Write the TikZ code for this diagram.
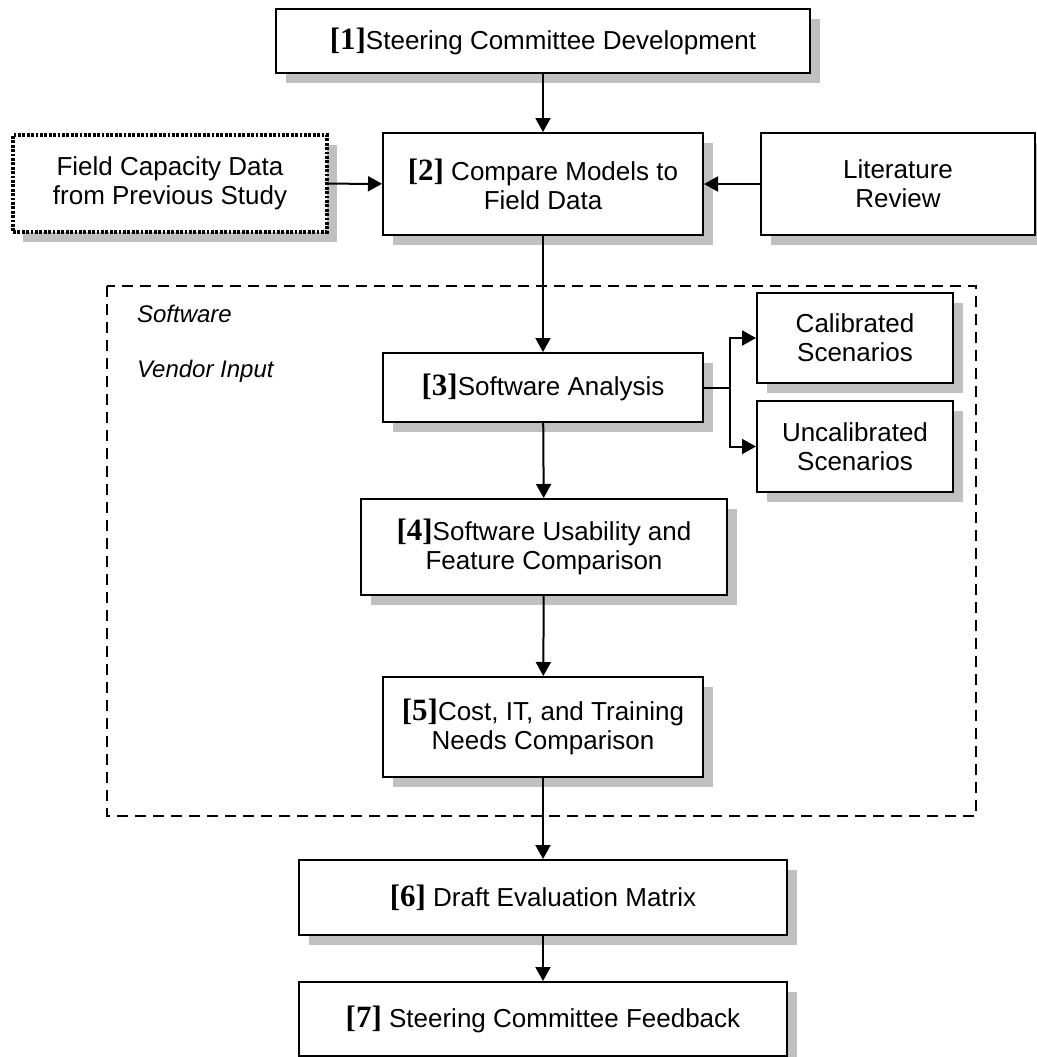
\documentclass[tikz,border=0pt]{standalone}
\usepackage{fontspec}
\setmainfont{Liberation Sans}
\newfontfamily\numfont{Liberation Serif}
\usepackage{tikz}
\usepackage{xcolor}
\usetikzlibrary{arrows.meta}
\usetikzlibrary{shadows}

\definecolor{shadowgray}{RGB}{192,192,192}
\newcommand{\stepno}[1]{{\numfont\bfseries\fontsize{15.5}{14.5}\selectfont[#1]}}

\begin{document}
\begin{tikzpicture} [
    x=0.5pt, y=-0.5pt,
    block/.style  = { rectangle, draw, line width=1pt, fill=white,
                      align=center, inner sep=2pt,
                      font=\fontsize{13}{14.5}\selectfont,
                      drop shadow={shadow xshift=5pt, shadow yshift=-5pt,
                                   fill=shadowgray, opacity=1} },
    source/.style = { block, line width=1.6pt,
                      dash pattern=on 1.4pt off 0.8pt },
    group/.style  = { draw, line width=0.9pt,
                      dash pattern=on 5.5pt off 3.5pt },
    tag/.style    = { font=\fontsize{12}{14}\selectfont\itshape,
                      anchor=base west },
    line/.style   = { draw, line width=1pt,
                      -{Triangle[length=7pt,width=7.5pt]} },
  ]
  \useasboundingbox (0,0) rectangle (1037,1057);

  % vendor input region
  \draw [group] (107,286) rectangle (976,816);
  \node [tag] (tagsoft)   at (130,322) {Software};
  \node [tag] (tagvendor) at (130,377) {Vendor Input};

  \node [block, minimum width=267pt, minimum height=32pt] (committee)
        at (543,41) {\stepno{1}Steering Committee Development};
  \node [block, minimum width=160pt, minimum height=51pt] (compare)
        at (543,184) {\stepno{2} Compare Models to\\Field Data};
  \node [source, minimum width=157pt, minimum height=48.5pt] (fielddata)
        at (170,183.5) {Field Capacity Data\\from Previous Study};
  \node [block, minimum width=137pt, minimum height=51pt] (litreview)
        at (898,184) {Literature\\Review};
  \node [block, minimum width=160pt, minimum height=34.5pt] (analysis)
        at (543,387.5) {\stepno{3}Software Analysis};
  \node [block, minimum width=98pt, minimum height=45pt] (calib)
        at (855,338) {Calibrated\\Scenarios};
  \node [block, minimum width=98pt, minimum height=45.5pt] (uncalib)
        at (855,446.5) {Uncalibrated\\Scenarios};
  \node [block, minimum width=183pt, minimum height=48pt] (usability)
        at (544,547) {\stepno{4}Software Usability and\\Feature Comparison};
  \node [block, minimum width=160pt, minimum height=50pt] (cost)
        at (543,727) {\stepno{5}Cost, IT, and Training\\Needs Comparison};
  \node [block, minimum width=244pt, minimum height=37.5pt] (matrix)
        at (543,897.5) {\stepno{6} Draft Evaluation Matrix};
  \node [block, minimum width=244pt, minimum height=37pt] (feedback)
        at (543,1019) {\stepno{7} Steering Committee Feedback};
  \coordinate (split) at (730,387.5);

  % connect all nodes defined above
  \begin{scope} [every path/.style=line]
    \path (committee) -- (compare);
    \path (fielddata) -- (compare);
    \path (litreview) -- (compare);
    \path (compare)   -- (analysis);
    \path (analysis)  -- (split) |- (calib);
    \path (split)     |- (uncalib);
    \path (analysis)  -- (usability);
    \path (usability) -- (cost);
    \path (cost)      -- (matrix);
    \path (matrix)    -- (feedback);
  \end{scope}
\end{tikzpicture}
\end{document}
